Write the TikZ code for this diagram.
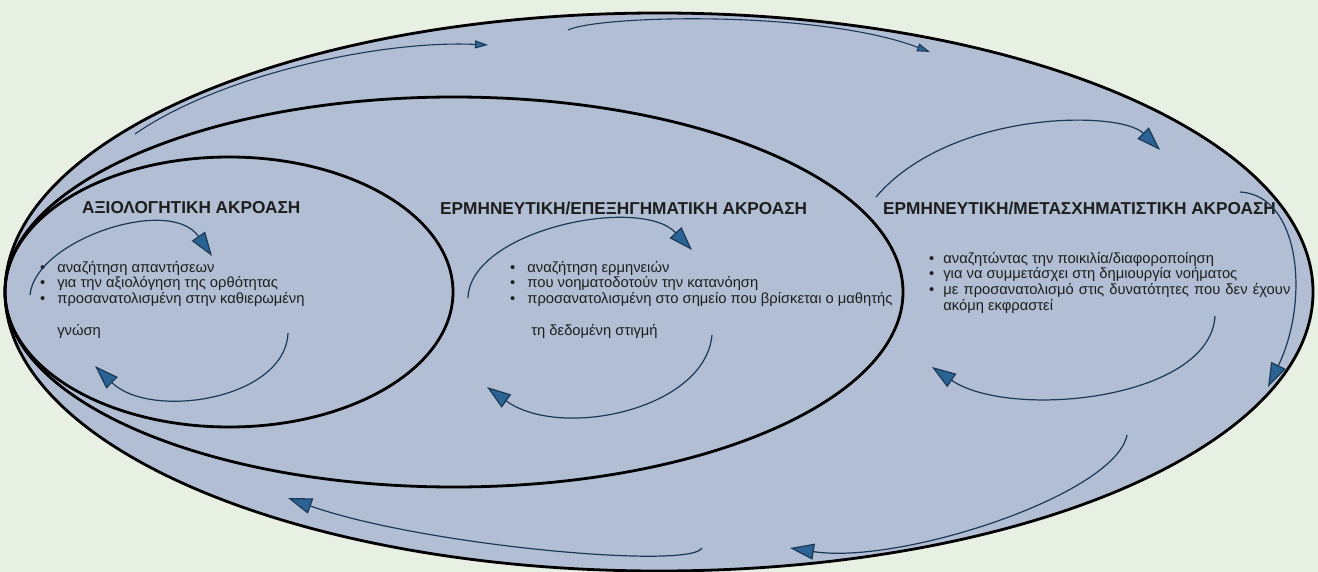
\documentclass[tikz,border=0pt]{standalone}
\usepackage{fontspec}
\setmainfont{Liberation Sans}
\usetikzlibrary{arrows.meta,shapes.geometric}
\definecolor{bgc}{HTML}{E8EFE3}
\definecolor{ellfill}{HTML}{B1BED3}
\definecolor{navy}{HTML}{1C3857}
\definecolor{headblue}{HTML}{2B6494}
\definecolor{txt}{HTML}{1E1E1E}
\begin{document}
\begin{tikzpicture}[x=1bp,y=-1bp,
  ring/.style={draw=black,line width=2.8bp,ellipse,inner sep=0pt,outer sep=0pt},
  title/.style={font=\fontsize{17.3}{20}\selectfont\bfseries,text=txt,inner sep=0pt,anchor=west},
  block/.style={font=\fontsize{14.8}{16}\selectfont,text=txt,inner sep=0pt,anchor=base west,align=left},
  cyc/.style={draw=navy,line width=1.2bp,-{Triangle[length=24bp,width=16bp,fill=headblue]}},
  cycs/.style={draw=navy,line width=1.1bp,-{Triangle[length=13bp,width=8bp,fill=headblue]}},
]
\fill[bgc] (0,0) rectangle (1318,572);
\useasboundingbox (0,0) rectangle (1318,572);

% rings
\node[ring,fill=ellfill,minimum width=1308bp,minimum height=558bp] (outer) at (659,292) {};
\node[ring,minimum width=898bp,minimum height=390bp] (mid) at (454,292) {};
\node[ring,minimum width=448bp,minimum height=270bp] (inner) at (229,292) {};

% titles
\node[title] (t1) at (82,208) {ΑΞΙΟΛΟΓΗΤΙΚΗ ΑΚΡΟΑΣΗ};
\node[title] (t2) at (440,208) {ΕΡΜΗΝΕΥΤΙΚΗ/ΕΠΕΞΗΓΗΜΑΤΙΚΗ ΑΚΡΟΑΣΗ};
\node[title] (t3) at (883,208) {ΕΡΜΗΝΕΥΤΙΚΗ/ΜΕΤΑΣΧΗΜΑΤΙΣΤΙΚΗ ΑΚΡΟΑΣΗ};

% bullet blocks
\node[block] (lb) at (40,272) {\begin{tabular}[t]{@{}l@{\hspace{12bp}}l@{}}
•&αναζήτηση απαντήσεων\\
•&για την αξιολόγηση της ορθότητας\\
•&προσανατολισμένη στην καθιερωμένη\\
&\\
&γνώση\end{tabular}};
\node[block] (mb) at (510,272) {\begin{tabular}[t]{@{}l@{\hspace{12bp}}l@{}}
•&αναζήτηση ερμηνειών\\
•&που νοηματοδοτούν την κατανόηση\\
•&προσανατολισμένη στο σημείο που βρίσκεται ο μαθητής\\
&\\
&\hspace{4bp}τη δεδομένη στιγμή\end{tabular}};
\node[block] (rb) at (929,263) {\fontsize{14.8}{15.3}\selectfont\begin{tabular}[t]{@{}l@{\hspace{9bp}}l@{}}
•&αναζητώντας την ποικιλία/διαφοροποίηση\\
•&για να συμμετάσχει στη δημιουργία νοήματος\\
•&\makebox[347bp][s]{με προσανατολισμό στις δυνατότητες που δεν έχουν}\\
&ακόμη εκφραστεί\end{tabular}};

% cycle arrows inside the rings
\draw[cyc] (30,295) .. controls (35,240) and (170,195) .. (212,256);
\draw[cyc] (288,333) .. controls (285,400) and (150,420) .. (95,366);
\draw[cyc] (468,298) .. controls (470,230) and (640,195) .. (692,250);
\draw[cyc] (712,335) .. controls (705,410) and (560,440) .. (487,387);
\draw[cyc] (876,197) .. controls (950,110) and (1120,110) .. (1160,150);
\draw[cyc] (1215,316) .. controls (1210,400) and (1010,420) .. (932,367);
\draw[cyc] (1240,192) .. controls (1300,195) and (1310,300) .. (1268,387);
\draw[cyc] (1127,435) .. controls (1115,495) and (900,565) .. (790,548);
\draw[cyc] (702,548) .. controls (690,570) and (420,545) .. (288,498);
% small arrows along the top
\draw[cycs] (135,134) .. controls (220,75) and (380,40) .. (488,45);
\draw[cycs] (568,30) .. controls (600,15) and (820,10) .. (930,52);
\end{tikzpicture}
\end{document}
